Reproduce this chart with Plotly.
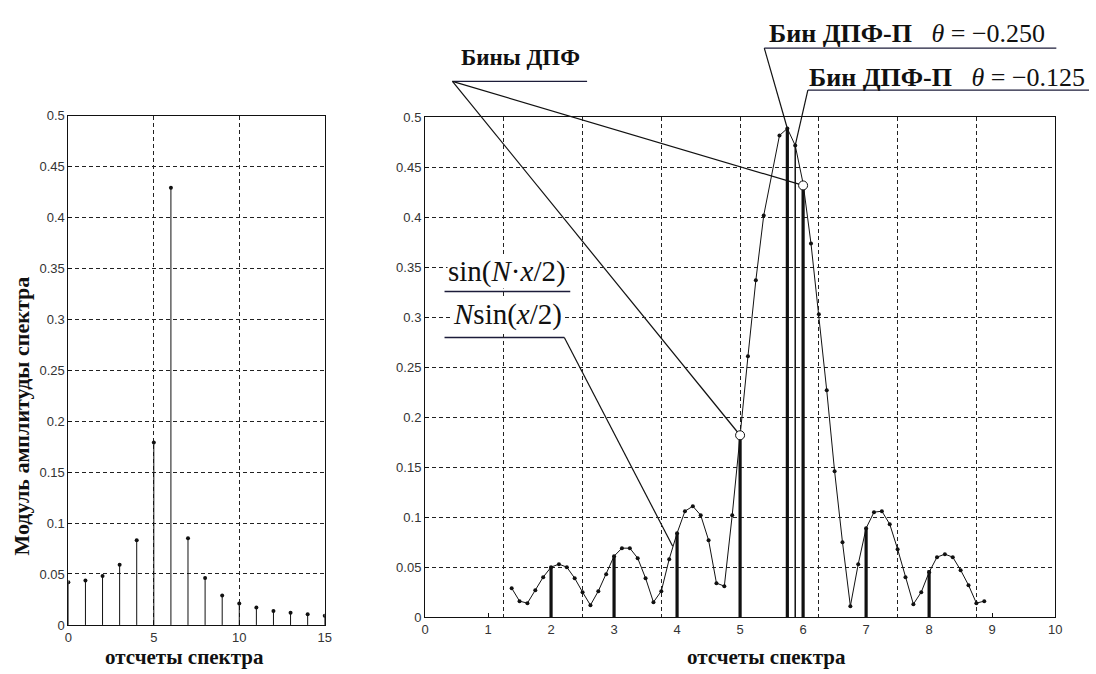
import plotly.graph_objects as go

W, H = 1096, 674

# ---------------- data ----------------
# left panel: DFT magnitude, bins 0..15
left_bins = list(range(16))
left_mag = [0.042, 0.0435, 0.048, 0.059, 0.083, 0.179, 0.429, 0.085,
            0.046, 0.029, 0.021, 0.017, 0.0137, 0.012, 0.0105, 0.009]

# right panel: densely sampled |sin(N x/2) / (N sin(x/2))|
curve_x = [1.375, 1.5, 1.625, 1.75, 1.875, 2.0, 2.125, 2.25, 2.375, 2.5,
           2.625, 2.75, 2.875, 3.0, 3.125, 3.25, 3.375, 3.5, 3.625, 3.75,
           3.875, 4.0, 4.125, 4.25, 4.375, 4.5, 4.625, 4.75, 4.875, 5.0,
           5.125, 5.25, 5.375, 5.625, 5.75, 5.875, 6.0, 6.125, 6.25, 6.375,
           6.5, 6.625, 6.75, 6.875, 7.0, 7.125, 7.25, 7.375, 7.5, 7.625,
           7.75, 7.875, 8.0, 8.125, 8.25, 8.375, 8.5, 8.625, 8.75, 8.875]
curve_y = [0.029, 0.016, 0.014, 0.027, 0.040, 0.050, 0.053, 0.050, 0.039, 0.025,
           0.012, 0.026, 0.043, 0.061, 0.069, 0.069, 0.059, 0.039, 0.015, 0.026,
           0.058, 0.084, 0.106, 0.111, 0.102, 0.077, 0.034, 0.031, 0.102, 0.184,
           0.261, 0.337, 0.402, 0.482, 0.489, 0.472, 0.434, 0.374, 0.303, 0.227,
           0.146, 0.075, 0.011, 0.053, 0.089, 0.105, 0.106, 0.093, 0.068, 0.040,
           0.013, 0.025, 0.045, 0.060, 0.063, 0.060, 0.047, 0.032, 0.014, 0.016]

# DFT bins (thick stems)
dft_bins = [2, 3, 4, 5, 6, 7, 8]
dft_vals = [0.050, 0.061, 0.084, 0.180, 0.432, 0.089, 0.047]
# highlighted DFT bins (open circles)
dft_mark_bins = [5, 6]
dft_mark_vals = [0.182, 0.432]
# shifted DFT bins
shift_bins = [5.75, 5.875]
shift_vals = [0.489, 0.472]

left_yticks = [0, 0.05, 0.1, 0.15, 0.2, 0.25, 0.3, 0.35, 0.4, 0.45, 0.5]
left_yticklabels = ["0", "0.05", "0.1", "0.15", "0.2", "0.25", "0.3", "0.35", "0.4", "0.45", "0.5"]
left_xticks = [0, 5, 10, 15]
right_xticks = list(range(11))
right_xgrid = [1.25, 2.5, 3.75, 5.0, 6.25, 7.5, 8.75]

# ---------------- geometry (pixels) ----------------
L_X0, L_X1, L_YT, L_YB = 65, 324, 111, 632
R_X0, R_X1, R_YT, R_YB = 425.3, 1061.8, 113, 624
XR, YR = (0, 10), (0, 0.5)


def pp(px, py):
    return px / W, 1 - py / H


def rdata(x, y):
    px = R_X0 + (x - XR[0]) / (XR[1] - XR[0]) * (R_X1 - R_X0)
    py = R_YB - (y - YR[0]) / (YR[1] - YR[0]) * (R_YB - R_YT)
    return pp(px, py)


def stems(xs, ys):
    sx, sy = [], []
    for a, b in zip(xs, ys):
        sx += [a, a, None]
        sy += [0, b, None]
    return sx, sy


fig = go.Figure()

# left stems
sx, sy = stems(left_bins, left_mag)
fig.add_trace(go.Scatter(x=sx, y=sy, mode="lines", line=dict(color="#111", width=1),
                         xaxis="x", yaxis="y", showlegend=False, hoverinfo="skip"))
fig.add_trace(go.Scatter(x=left_bins, y=left_mag, mode="markers",
                         marker=dict(color="#111", size=4), xaxis="x", yaxis="y", showlegend=False))

# right: grid carrier (invisible) on overlay axis
fig.add_trace(go.Scatter(x=[XR[0]], y=[0], mode="markers", marker=dict(opacity=0),
                         xaxis="x3", yaxis="y2", showlegend=False, hoverinfo="skip"))

# DFT bin stems (thick)
sx, sy = stems(dft_bins, dft_vals)
fig.add_trace(go.Scatter(x=sx, y=sy, mode="lines", line=dict(color="#111", width=3.2),
                         xaxis="x2", yaxis="y2", showlegend=False, hoverinfo="skip"))
# shifted bins
sx, sy = stems(shift_bins[:1], shift_vals[:1])
fig.add_trace(go.Scatter(x=sx, y=sy, mode="lines", line=dict(color="#111", width=3.2),
                         xaxis="x2", yaxis="y2", showlegend=False, hoverinfo="skip"))
sx, sy = stems(shift_bins[1:], shift_vals[1:])
fig.add_trace(go.Scatter(x=sx, y=sy, mode="lines", line=dict(color="#111", width=1.5),
                         xaxis="x2", yaxis="y2", showlegend=False, hoverinfo="skip"))

# curve
fig.add_trace(go.Scatter(x=curve_x, y=curve_y, mode="lines+markers",
                         line=dict(color="#111", width=1),
                         marker=dict(color="#111", size=4),
                         xaxis="x2", yaxis="y2", showlegend=False))
# open circles
fig.add_trace(go.Scatter(x=dft_mark_bins, y=dft_mark_vals, mode="markers",
                         marker=dict(color="white", size=9, line=dict(color="#111", width=1)),
                         xaxis="x2", yaxis="y2", showlegend=False))

tickfont = dict(family="Liberation Sans", size=13, color="#333")
grid = dict(gridcolor="#222", gridwidth=1, griddash="4px,3px")
axline = dict(showline=True, linecolor="#111", linewidth=1, mirror=True)

layout = dict(
    width=W, height=H, autosize=False,
    margin=dict(l=0, r=0, t=0, b=0),
    paper_bgcolor="white", plot_bgcolor="rgba(0,0,0,0)",
    xaxis=dict(domain=[L_X0 / W, L_X1 / W], anchor="y", range=[0, 15],
               tickvals=left_xticks, ticks="inside", ticklen=4, tickcolor="#111",
               showgrid=True, zeroline=False, tickfont=tickfont, **grid, **axline),
    yaxis=dict(domain=[1 - L_YB / H, 1 - L_YT / H], anchor="x", range=[0, 0.5],
               tickvals=left_yticks, ticktext=left_yticklabels, ticks="inside", ticklen=4,
               tickcolor="#111", showgrid=True, zeroline=False, tickfont=tickfont,
               **grid, **axline),
    xaxis2=dict(domain=[R_X0 / W, R_X1 / W], anchor="y2", range=list(XR),
                tickvals=right_xticks, ticks="inside", ticklen=4, tickcolor="#111",
                showgrid=False, zeroline=False, tickfont=tickfont, **axline),
    xaxis3=dict(domain=[R_X0 / W, R_X1 / W], anchor="y2", overlaying="x2", range=list(XR),
                tickvals=right_xgrid, showticklabels=False, ticks="",
                showgrid=True, zeroline=False, showline=False, **grid),
    yaxis2=dict(domain=[1 - R_YB / H, 1 - R_YT / H], anchor="x2", range=list(YR),
                tickvals=left_yticks, ticktext=left_yticklabels, ticks="inside", ticklen=4,
                tickcolor="#111", showgrid=True, zeroline=False, tickfont=tickfont,
                **grid, **axline),
)

serif = "Liberation Serif"
annotations = []


def ann(text, px, py, size, xanchor="center", bg=None, angle=0, yanchor="middle"):
    x, y = pp(px, py)
    d = dict(text=text, x=x, y=y, xref="paper", yref="paper", showarrow=False,
             xanchor=xanchor, yanchor=yanchor, textangle=angle,
             font=dict(family=serif, size=size, color="#111"))
    if bg:
        d["bgcolor"] = bg
        d["borderpad"] = 0
    annotations.append(d)


ann("<b>отсчеты спектра</b>", 182, 665, 21)
ann("<b>отсчеты спектра</b>", 770, 665, 21)
ann("<b>Модуль амплитуды спектра</b>", 18, 418, 22, angle=-90)
ann("<b>Бины ДПФ</b>", 522, 52, 23)
nb = "\u00a0"
ann("<b>Бин ДПФ-П</b>" + nb * 3 + "<i>θ</i> = −0.250", 771, 27, 26, xanchor="left")
ann("<b>Бин ДПФ-П</b>" + nb * 3 + "<i>θ</i> = −0.125", 811, 72, 26, xanchor="left")
ann("sin(<i>N</i>·<i>x</i>/2)", 508, 271, 29, bg="white")
ann("<i>N</i>sin(<i>x</i>/2)", 509, 314, 29, bg="white")

shapes = []


def seg(p0, p1, width=1.2, color="#111"):
    shapes.append(dict(type="line", xref="paper", yref="paper",
                       x0=p0[0], y0=p0[1], x1=p1[0], y1=p1[1], layer="below",
                       line=dict(color=color, width=width)))


# "Бины ДПФ" underline and leaders
seg(pp(453, 76), pp(589, 76), 1.3, "#1c1c3a")
seg(pp(453, 76), rdata(dft_mark_bins[0], dft_mark_vals[0]))
seg(pp(453, 76), rdata(dft_mark_bins[1], dft_mark_vals[1]))
# shifted bin labels
seg(pp(768, 42), pp(1063, 42), 1.3, "#1c1c3a")
seg(pp(768, 42), rdata(shift_bins[0], shift_vals[0]))
seg(pp(812, 85), pp(1096, 85), 1.3, "#1c1c3a")
seg(pp(812, 85), rdata(shift_bins[1], shift_vals[1]))
# formula fraction bar, underline and leader
seg(pp(445, 291), pp(572, 291), 1.4, "#1c1c3a")
seg(pp(445, 338), pp(566, 338), 1.3, "#1c1c3a")
seg(pp(566, 338), rdata(3.93, 0.071))

layout["annotations"] = annotations
layout["shapes"] = shapes
fig.update_layout(**layout)

fig.write_html("out.html")
